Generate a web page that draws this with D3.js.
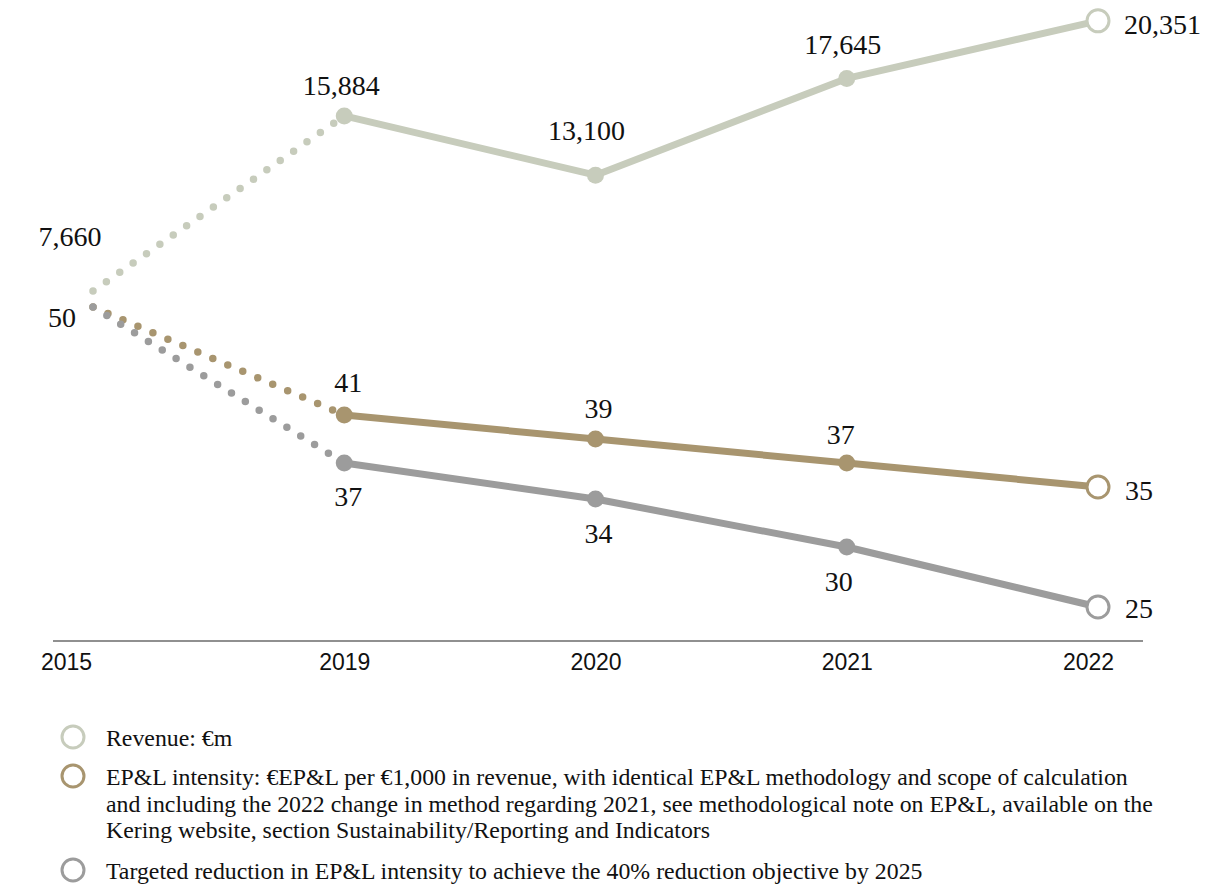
<!DOCTYPE html>
<html>
<head>
<meta charset="utf-8">
<script src="https://cdn.jsdelivr.net/npm/d3@7"></script>
<style>
  body { margin: 0; background: #fff; }
  svg { display: block; }
</style>
</head>
<body>
<div id="chart"></div>
<script>
var years = ['2015', '2019', '2020', '2021', '2022'];
var revenue = [7660, 15884, 13100, 17645, 20351];
var intensity = [50, 41, 39, 37, 35];
var target = [50, 37, 34, 30, 25];

var legendItems = [
    { key: 'revenue', lines: ['Revenue: \u20acm'] },
    { key: 'intensity', lines: [
        'EP&L intensity: \u20acEP&L per \u20ac1,000 in revenue, with identical EP&L methodology and scope of calculation',
        'and including the 2022 change in method regarding 2021, see methodological note on EP&L, available on the',
        'Kering website, section Sustainability/Reporting and Indicators'] },
    { key: 'target', lines: ['Targeted reduction in EP&L intensity to achieve the 40% reduction objective by 2025'] }
];

var colors = { revenue: '#c7ccbc', intensity: '#a8956f', target: '#9c9c9c' };

var width = 1230, height = 884;

var svg = d3.select('#chart')
    .append('svg')
    .attr('width', width)
    .attr('height', height);

var x = d3.scalePoint().domain(years).range([93, 1098]);
var yRev = d3.scaleLinear().domain([0, 21000]).range([454, 7]);
var yInt = d3.scaleLinear().domain([0, 50]).range([907, 307]);

// baseline + year labels
svg.append('line')
    .attr('x1', x(years[0]) - 40)
    .attr('x2', x(years[years.length - 1]) + 45)
    .attr('y1', 641).attr('y2', 641)
    .attr('stroke', '#222').attr('stroke-width', 1.2);

var axis = svg.append('g')
    .attr('transform', 'translate(0,653)')
    .call(d3.axisBottom(x).tickSize(0).tickPadding(0));
axis.select('.domain').remove();
axis.selectAll('text')
    .attr('dy', '0.72em')
    .attr('dx', function(d, i) { return i === 0 ? -27 : (i === years.length - 1 ? -10 : 0); })
    .style('font-family', '"Liberation Sans", Arial, sans-serif')
    .style('font-size', '23px')
    .attr('fill', '#111');

function drawSeries(values, y, color, labelPos) {
    var pts = values.map(function(v, i) { return [x(years[i]), y(v), v, i]; });
    var line = d3.line();

    // 2015 -> 2019 is dotted
    svg.append('path')
        .attr('d', line(pts.slice(0, 2)))
        .attr('fill', 'none')
        .attr('stroke', color)
        .attr('stroke-width', 7.5)
        .attr('stroke-linecap', 'round')
        .attr('stroke-dasharray', '0 16.3');

    svg.append('path')
        .attr('d', line(pts.slice(1)))
        .attr('fill', 'none')
        .attr('stroke', color)
        .attr('stroke-width', 7)
        .attr('stroke-linejoin', 'round');

    svg.selectAll(null)
        .data(pts.slice(1, pts.length - 1))
        .enter()
        .append('circle')
        .attr('cx', function(d) { return d[0]; })
        .attr('cy', function(d) { return d[1]; })
        .attr('r', 8.5)
        .attr('fill', color);

    var last = pts[pts.length - 1];
    svg.append('circle')
        .attr('cx', last[0]).attr('cy', last[1])
        .attr('r', 11)
        .attr('fill', '#fff')
        .attr('stroke', color)
        .attr('stroke-width', 3);

    svg.selectAll(null)
        .data(pts.filter(function(d) { return labelPos[d[3]] !== null; }))
        .enter()
        .append('text')
        .attr('x', function(d) { return d[0] + labelPos[d[3]][0]; })
        .attr('y', function(d) { return d[1] + labelPos[d[3]][1]; })
        .attr('text-anchor', function(d) { return labelPos[d[3]][2]; })
        .style('font-family', '"Liberation Serif", "Times New Roman", serif')
        .style('font-size', '28px')
        .attr('fill', '#111')
        .text(function(d) { return d3.format(',')(d[2]); });
}

drawSeries(revenue, yRev, colors.revenue,
    [[-23, -45, 'middle'], [-3, -21, 'middle'], [-9, -35, 'middle'], [-4, -24, 'middle'], [26, 13, 'start']]);
drawSeries(intensity, yInt, colors.intensity,
    [[-31, 20, 'middle'], [4, -23, 'middle'], [3, -21, 'middle'], [-6, -19, 'middle'], [27, 13, 'start']]);
// the 50 label is shared by both intensity series, so target skips it
drawSeries(target, yInt, colors.target,
    [null, [4, 43, 'middle'], [3, 44, 'middle'], [-8, 44, 'middle'], [27, 11, 'start']]);

// legend
var legend = svg.append('g');
var ly = [746, 785, 879];
legendItems.forEach(function(item, i) {
    var g = legend.append('g');
    g.append('circle')
        .attr('cx', 73)
        .attr('cy', ly[i] - 9)
        .attr('r', 11)
        .attr('fill', 'none')
        .attr('stroke', colors[item.key])
        .attr('stroke-width', 3);
    item.lines.forEach(function(t, j) {
        g.append('text')
            .attr('x', 106)
            .attr('y', ly[i] + j * 26.5)
            .style('font-family', '"Liberation Serif", "Times New Roman", serif')
            .style('font-size', '23.8px')
            .attr('fill', '#111')
            .text(t);
    });
});
</script>
</body>
</html>
